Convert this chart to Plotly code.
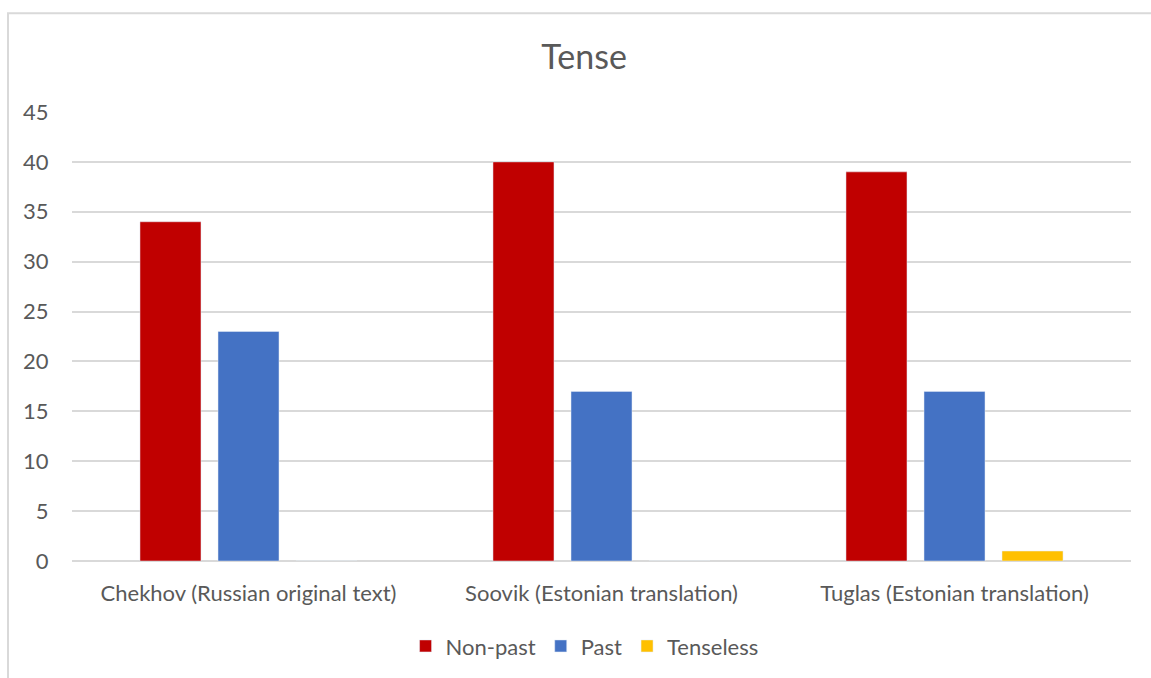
import plotly.graph_objects as go

categories = ["Chekhov (Russian original text)", "Soovik (Estonian translation)", "Tuglas (Estonian translation)"]
non_past = [34, 40, 39]
past = [23, 17, 17]
tenseless = [0, 0, 1]
y_ticks = [0, 5, 10, 15, 20, 25, 30, 35, 40, 45]

FONT = "Lato"
TXT = "#595959"

fig = go.Figure()
fig.add_trace(go.Bar(name="Non-past", x=categories, y=non_past, marker=dict(color="#C00000")))
fig.add_trace(go.Bar(name="Past", x=categories, y=past, marker=dict(color="#4472C4")))
fig.add_trace(go.Bar(name="Tenseless", x=categories, y=tenseless, marker=dict(color="#FFC000")))

fig.update_layout(
    width=1151, height=678,
    margin=dict(l=72, r=20, t=112, b=116),
    paper_bgcolor="white", plot_bgcolor="white",
    barmode="group", bargap=0.337, bargroupgap=0.218,
    font=dict(family=FONT, color=TXT, size=22),
    title=dict(text="Tense", x=0.5075, xanchor="center", y=1 - 57/678, yanchor="middle",
               font=dict(family=FONT, size=34, color=TXT)),
    showlegend=True,
    legend=dict(orientation="h", x=0.484, xanchor="center", y=-0.187, yanchor="middle",
                font=dict(family=FONT, size=22, color=TXT), itemwidth=30, traceorder="normal"),
    xaxis=dict(showgrid=False, showline=False, zeroline=False, ticks="outside", ticklen=13,
               tickcolor="rgba(0,0,0,0)", tickfont=dict(family=FONT, size=22, color=TXT)),
    yaxis=dict(range=[0, 45], tickvals=y_ticks, showgrid=True, gridcolor="#D9D9D9", gridwidth=1.5,
               zeroline=True, zerolinecolor="#D9D9D9", zerolinewidth=1.5, showline=False,
               ticks="outside", ticklen=18, tickcolor="rgba(0,0,0,0)",
               tickfont=dict(family=FONT, size=22, color=TXT)),
    shapes=[dict(type="rect", xref="paper", yref="paper", x0=(8 - 72) / 1059, x1=1.2,
                 y0=-0.5, y1=(562 - 13) / 450, line=dict(color="#D9D9D9", width=2),
                 fillcolor="rgba(0,0,0,0)", layer="below")],
)

fig.write_html("out.html")
